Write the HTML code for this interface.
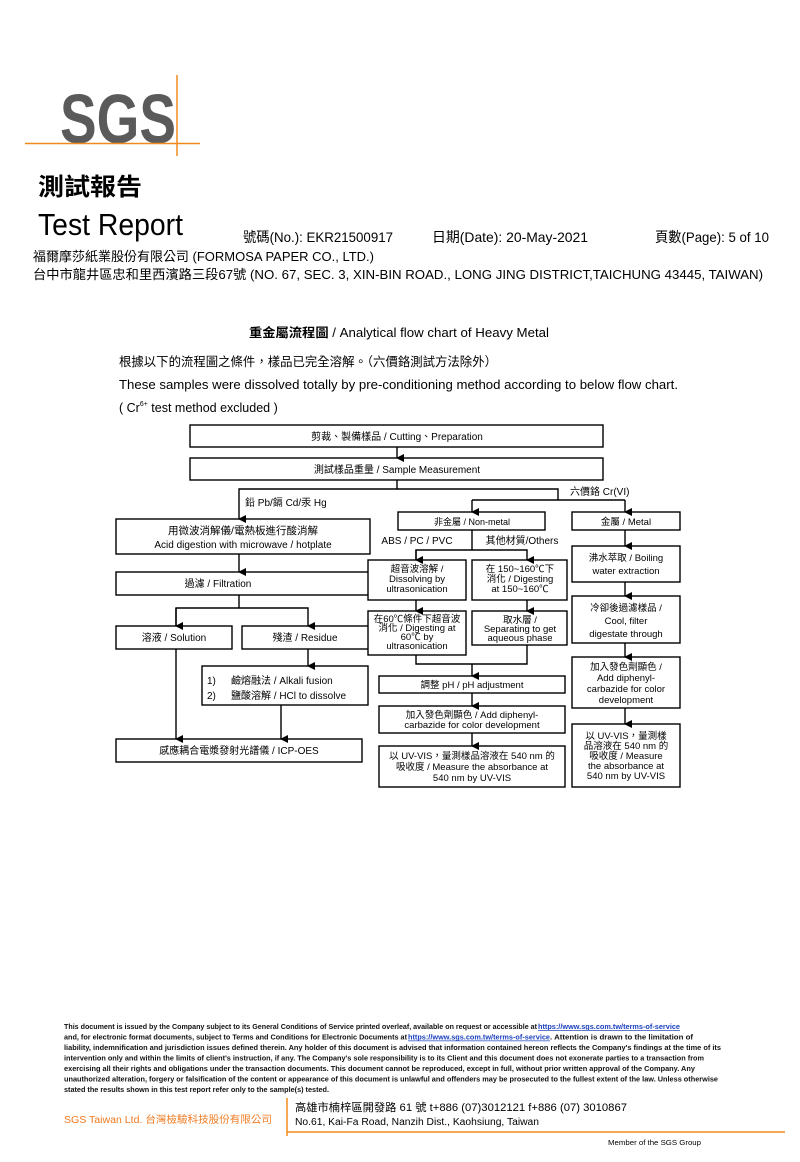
<!DOCTYPE html>
<html><head><meta charset="utf-8"><style>
html,body{margin:0;padding:0;background:#fff;}
svg{display:block;font-family:"Liberation Sans","Noto Sans CJK TC",sans-serif;}
</style></head><body>
<svg width="800" height="1162" viewBox="0 0 800 1162" xmlns="http://www.w3.org/2000/svg">
<defs><marker id="a" markerWidth="8" markerHeight="8" refX="4" refY="7" orient="auto" markerUnits="userSpaceOnUse"><path d="M0,0 L8,0 L4,8 Z" fill="#000"/></marker></defs>
<!-- logo -->
<text x="60" y="143" font-size="70" font-weight="bold" fill="#5a5a5a" textLength="116" lengthAdjust="spacingAndGlyphs">SGS</text>
<line x1="25" y1="143.5" x2="200" y2="143.5" stroke="#f08a1c" stroke-width="1.5"/>
<line x1="177" y1="75" x2="177" y2="156" stroke="#f08a1c" stroke-width="1.5"/>
<text x="38" y="195" font-size="24" font-weight="bold" textLength="104" lengthAdjust="spacingAndGlyphs">測試報告</text>
<text x="38" y="235" font-size="31" textLength="145" lengthAdjust="spacingAndGlyphs">Test Report</text>
<g font-size="14">
<text x="243" y="242" textLength="150" lengthAdjust="spacingAndGlyphs">號碼(No.): EKR21500917</text>
<text x="432" y="242" textLength="156" lengthAdjust="spacingAndGlyphs">日期(Date): 20-May-2021</text>
<text x="655" y="242" textLength="114" lengthAdjust="spacingAndGlyphs">頁數(Page): 5 of 10</text>
</g>
<g font-size="13">
<text x="33" y="261" textLength="341" lengthAdjust="spacingAndGlyphs">福爾摩莎紙業股份有限公司 (FORMOSA PAPER CO., LTD.)</text>
<text x="33" y="279" textLength="730" lengthAdjust="spacingAndGlyphs">台中市龍井區忠和里西濱路三段67號 (NO. 67, SEC. 3, XIN-BIN ROAD., LONG JING DISTRICT,TAICHUNG 43445, TAIWAN)</text>
</g>
<text x="249" y="337" font-size="12.5" textLength="300" lengthAdjust="spacingAndGlyphs"><tspan font-weight="bold">重金屬流程圖</tspan> / Analytical flow chart of Heavy Metal</text>
<text x="119" y="366" font-size="12.5" textLength="378" lengthAdjust="spacingAndGlyphs">根據以下的流程圖之條件，樣品已完全溶解。（六價鉻測試方法除外）</text>
<text x="119" y="389" font-size="12.5" textLength="559" lengthAdjust="spacingAndGlyphs">These samples were dissolved totally by pre-conditioning method according to below flow chart.</text>
<text x="119" y="412" font-size="12.5">( Cr<tspan font-size="7" dy="-6">6+</tspan><tspan dy="6"> test method excluded )</tspan></text>

<!-- diagram boxes -->
<g fill="#fff" stroke="#000" stroke-width="1.4">
<rect x="190" y="425" width="413" height="22"/>
<rect x="190" y="458" width="413" height="22"/>
<rect x="116" y="519" width="254" height="35"/>
<rect x="116" y="572" width="254" height="23"/>
<rect x="116" y="626" width="116" height="23"/>
<rect x="242" y="626" width="128" height="23"/>
<rect x="202" y="666" width="166" height="39"/>
<rect x="116" y="739" width="246" height="23"/>
<rect x="398" y="512" width="147" height="18"/>
<rect x="368" y="560" width="98" height="40"/>
<rect x="472" y="560" width="95" height="40"/>
<rect x="368" y="611" width="98" height="44"/>
<rect x="472" y="611" width="95" height="34"/>
<rect x="379" y="676" width="186" height="17"/>
<rect x="379" y="706" width="186" height="27"/>
<rect x="379" y="746" width="186" height="41"/>
<rect x="572" y="512" width="108" height="18"/>
<rect x="572" y="546" width="108" height="36"/>
<rect x="572" y="596" width="108" height="47"/>
<rect x="572" y="657" width="108" height="51"/>
<rect x="572" y="724" width="108" height="63"/>
</g>
<!-- connectors -->
<g stroke="#000" stroke-width="1.4" fill="none">
<line x1="397" y1="447" x2="397" y2="458" marker-end="url(#a)"/>
<polyline points="397,480 397,489 239,489 239,519" marker-end="url(#a)"/>
<polyline points="397,489 558,489 558,500"/>
<polyline points="472,500 625,500"/>
<line x1="472" y1="500" x2="472" y2="512" marker-end="url(#a)"/>
<line x1="625" y1="500" x2="625" y2="512" marker-end="url(#a)"/>
<line x1="239" y1="554" x2="239" y2="572" marker-end="url(#a)"/>
<polyline points="239,595 239,608"/>
<polyline points="176,626 176,608 308,608 308,626" marker-end="url(#a)"/>
<line x1="176" y1="608" x2="176" y2="626" marker-end="url(#a)"/>
<line x1="308" y1="649" x2="308" y2="666" marker-end="url(#a)"/>
<line x1="176" y1="649" x2="176" y2="739" marker-end="url(#a)"/>
<line x1="281" y1="705" x2="281" y2="739" marker-end="url(#a)"/>
<polyline points="472,530 472,550"/>
<polyline points="416,560 416,550 527,550 527,560" marker-end="url(#a)"/>
<line x1="416" y1="550" x2="416" y2="560" marker-end="url(#a)"/>
<line x1="416" y1="600" x2="416" y2="611" marker-end="url(#a)"/>
<line x1="527" y1="600" x2="527" y2="611" marker-end="url(#a)"/>
<polyline points="416,655 416,664 527,664 527,645"/>
<line x1="472" y1="664" x2="472" y2="676" marker-end="url(#a)"/>
<line x1="472" y1="693" x2="472" y2="706" marker-end="url(#a)"/>
<line x1="472" y1="733" x2="472" y2="746" marker-end="url(#a)"/>
<line x1="625" y1="530" x2="625" y2="546" marker-end="url(#a)"/>
<line x1="625" y1="582" x2="625" y2="596" marker-end="url(#a)"/>
<line x1="625" y1="643" x2="625" y2="657" marker-end="url(#a)"/>
<line x1="625" y1="708" x2="625" y2="724" marker-end="url(#a)"/>
</g>
<!-- box text -->
<g font-size="10" text-anchor="middle">
<text x="397" y="440">剪裁、製備樣品 / Cutting、Preparation</text>
<text x="397" y="473">測試樣品重量 / Sample Measurement</text>
<text x="243" y="534" font-size="10.5">用微波消解儀/電熱板進行酸消解</text>
<text x="243" y="548">Acid digestion with microwave / hotplate</text>
<text x="218" y="587">過濾 / Filtration</text>
<text x="174" y="641">溶液 / Solution</text>
<text x="305" y="641">殘渣 / Residue</text>
<text x="239" y="754">感應耦合電漿發射光譜儀 / ICP-OES</text>
<text x="472" y="525" font-size="9">非金屬 / Non-metal</text>
<text x="417" y="544">ABS / PC / PVC</text>
<text x="522" y="544">其他材質/Others</text>
<g font-size="9.5">
<text x="417" y="572">超音波溶解 /</text><text x="417" y="582">Dissolving by</text><text x="417" y="592">ultrasonication</text>
<text x="520" y="572">在 150~160℃下</text><text x="520" y="582">消化 / Digesting</text><text x="520" y="592">at 150~160℃</text>
<text x="417" y="622">在60℃條件下超音波</text><text x="417" y="631">消化 / Digesting at</text><text x="417" y="640">60℃ by</text><text x="417" y="649">ultrasonication</text>
<text x="520" y="623">取水層 /</text><text x="520" y="632">Separating to get</text><text x="520" y="641">aqueous phase</text>
<text x="472" y="688">調整 pH / pH adjustment</text>
<text x="472" y="718">加入發色劑顯色 / Add diphenyl-</text><text x="472" y="728">carbazide for color development</text>
<text x="472" y="759">以 UV-VIS，量測樣品溶液在 540 nm 的</text><text x="472" y="770">吸收度 / Measure the absorbance at</text><text x="472" y="781">540 nm by UV-VIS</text>
<text x="626" y="525">金屬 / Metal</text>
<text x="626" y="561">沸水萃取 / Boiling</text><text x="626" y="574">water extraction</text>
<text x="626" y="611">冷卻後過濾樣品 /</text><text x="626" y="624">Cool, filter</text><text x="626" y="637">digestate through</text>
<text x="626" y="670">加入發色劑顯色 /</text><text x="626" y="681">Add diphenyl-</text><text x="626" y="692">carbazide for color</text><text x="626" y="703">development</text>
<text x="626" y="739">以 UV-VIS，量測樣</text><text x="626" y="749">品溶液在 540 nm 的</text><text x="626" y="759">吸收度 / Measure</text><text x="626" y="769">the absorbance at</text><text x="626" y="779">540 nm by UV-VIS</text>
</g>
</g>
<g font-size="10">
<text x="245" y="506">鉛 Pb/鎘 Cd/汞 Hg</text>
<text x="570" y="495">六價鉻 Cr(VI)</text>
<text x="207" y="684">1)</text><text x="231" y="684">鹼熔融法 / Alkali fusion</text>
<text x="207" y="699">2)</text><text x="231" y="699">鹽酸溶解 / HCl to dissolve</text>
</g>
<!-- footer -->
<g font-size="7" font-weight="bold" fill="#111">
<text x="64" y="1029" textLength="473" lengthAdjust="spacingAndGlyphs">This document is issued by the Company subject to its General Conditions of Service printed overleaf, available on request or accessible at</text>
<text x="538" y="1029" fill="#1a3fbf" text-decoration="underline" textLength="142" lengthAdjust="spacingAndGlyphs">https://www.sgs.com.tw/terms-of-service</text>
<text x="64" y="1039.5" textLength="343" lengthAdjust="spacingAndGlyphs">and, for electronic format documents, subject to Terms and Conditions for Electronic Documents at</text>
<text x="408" y="1039.5" fill="#1a3fbf" text-decoration="underline" textLength="142" lengthAdjust="spacingAndGlyphs">https://www.sgs.com.tw/terms-of-service</text>
<text x="550" y="1039.5" textLength="143" lengthAdjust="spacingAndGlyphs">. Attention is drawn to the limitation of</text>
<text x="64" y="1050" textLength="657" lengthAdjust="spacingAndGlyphs">liability, indemnification and jurisdiction issues defined therein. Any holder of this document is advised that information contained hereon reflects the Company's findings at the time of its</text>
<text x="64" y="1060.5" textLength="640" lengthAdjust="spacingAndGlyphs">intervention only and within the limits of client's instruction, if any. The Company's sole responsibility is to its Client and this document does not exonerate parties to a transaction from</text>
<text x="64" y="1071" textLength="631" lengthAdjust="spacingAndGlyphs">exercising all their rights and obligations under the transaction documents. This document cannot be reproduced, except in full, without prior written approval of the Company. Any</text>
<text x="64" y="1081.5" textLength="654" lengthAdjust="spacingAndGlyphs">unauthorized alteration, forgery or falsification of the content or appearance of this document is unlawful and offenders may be prosecuted to the fullest extent of the law. Unless otherwise</text>
<text x="64" y="1092" textLength="265" lengthAdjust="spacingAndGlyphs">stated the results shown in this test report refer only to the sample(s) tested.</text>
</g>
<text x="64" y="1123" font-size="10" fill="#f07a20" textLength="208" lengthAdjust="spacingAndGlyphs">SGS Taiwan Ltd.  台灣檢驗科技股份有限公司</text>
<line x1="287" y1="1098" x2="287" y2="1136" stroke="#f08a1c" stroke-width="1.5"/>
<line x1="287" y1="1132" x2="785" y2="1132" stroke="#f08a1c" stroke-width="1.5"/>
<text x="295" y="1111" font-size="11" textLength="332" lengthAdjust="spacingAndGlyphs">高雄市楠梓區開發路 61 號   t+886 (07)3012121     f+886 (07) 3010867</text>
<text x="295" y="1125" font-size="10" textLength="244" lengthAdjust="spacingAndGlyphs">No.61, Kai-Fa Road, Nanzih Dist., Kaohsiung, Taiwan</text>
<text x="608" y="1145" font-size="7" textLength="93" lengthAdjust="spacingAndGlyphs">Member of the SGS Group</text>
</svg>
</body></html>
